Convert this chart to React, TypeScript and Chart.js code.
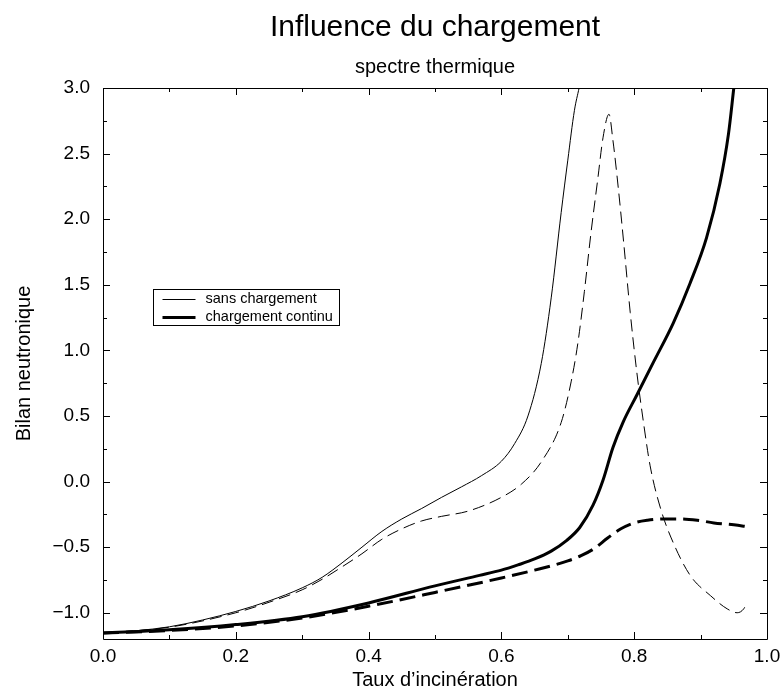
import React, { useEffect, useRef } from 'react';
import { Chart, registerables } from 'chart.js';

Chart.register(...registerables);

// ---- data ----
const sansX = [0, 0.05, 0.1, 0.15, 0.2, 0.25, 0.3, 0.33, 0.36, 0.39, 0.42, 0.45, 0.48, 0.51, 0.54, 0.57, 0.6, 0.62, 0.64, 0.66, 0.675, 0.69, 0.7, 0.71, 0.717];
const sansY = [-1.155, -1.137, -1.107, -1.055, -0.99, -0.91, -0.81, -0.73, -0.62, -0.5, -0.38, -0.285, -0.205, -0.12, -0.04, 0.045, 0.155, 0.29, 0.5, 0.9, 1.4, 2.05, 2.45, 2.83, 3.0];

const sansDashX = [0, 0.1, 0.2, 0.25, 0.3, 0.33, 0.36, 0.39, 0.42, 0.45, 0.48, 0.51, 0.55, 0.6, 0.63, 0.66, 0.69, 0.705, 0.715, 0.725, 0.735, 0.745, 0.753, 0.762, 0.768, 0.776, 0.784, 0.794, 0.804, 0.814, 0.824, 0.84, 0.86, 0.885, 0.915, 0.94, 0.955, 0.965, 0.97];
const sansDashY = [-1.155, -1.11, -1.0, -0.92, -0.825, -0.745, -0.65, -0.55, -0.44, -0.36, -0.3, -0.265, -0.225, -0.12, -0.02, 0.15, 0.45, 0.76, 1.05, 1.45, 1.9, 2.3, 2.62, 2.8, 2.6, 2.24, 1.83, 1.29, 0.83, 0.45, 0.12, -0.21, -0.48, -0.72, -0.87, -0.97, -1.0, -0.97, -0.92];

const continuX = [0, 0.1, 0.2, 0.3, 0.4, 0.5, 0.567, 0.6, 0.625, 0.65, 0.675, 0.698, 0.718, 0.738, 0.753, 0.768, 0.783, 0.804, 0.829, 0.859, 0.884, 0.909, 0.929, 0.942, 0.95];
const continuY = [-1.155, -1.13, -1.09, -1.03, -0.925, -0.795, -0.715, -0.675, -0.635, -0.59, -0.53, -0.45, -0.35, -0.18, 0.01, 0.26, 0.45, 0.66, 0.91, 1.21, 1.51, 1.86, 2.27, 2.65, 3.0];

const continuDashX = [0, 0.1, 0.2, 0.3, 0.4, 0.5, 0.6, 0.65, 0.7, 0.72, 0.74, 0.76, 0.78, 0.8, 0.82, 0.845, 0.87, 0.895, 0.92, 0.95, 0.972];
const continuDashY = [-1.155, -1.135, -1.1, -1.04, -0.95, -0.845, -0.735, -0.675, -0.605, -0.565, -0.51, -0.43, -0.36, -0.315, -0.295, -0.285, -0.285, -0.295, -0.315, -0.33, -0.345];

const xTickValues = [0, 0.2, 0.4, 0.6, 0.8, 1.0];
const xTickLabels = ['0.0', '0.2', '0.4', '0.6', '0.8', '1.0'];
const xMinorTicks = [0.1, 0.3, 0.5, 0.7, 0.9];
const yTickValues = [-1.0, -0.5, 0, 0.5, 1.0, 1.5, 2.0, 2.5, 3.0];
const yTickLabels = ['\u22121.0', '\u22120.5', '0.0', '0.5', '1.0', '1.5', '2.0', '2.5', '3.0'];
const yMinorTicks = [-0.75, -0.25, 0.25, 0.75, 1.25, 1.75, 2.25, 2.75];

const legendLabels = ['sans chargement', 'chargement continu'];
const titleText = 'Influence du chargement';
const subtitleText = 'spectre thermique';
const xTitle = 'Taux d\u2019incin\u00e9ration';
const yTitle = 'Bilan neutronique';

const FONT = "'Liberation Sans', Arial, Helvetica, sans-serif";

const pts = (xs: number[], ys: number[]) => xs.map((x, i) => ({ x, y: ys[i] }));

const labelFor = (values: number[], labels: string[]) => (v: any) => {
  const i = values.findIndex((t) => Math.abs(t - Number(v)) < 1e-9);
  return i >= 0 ? labels[i] : '';
};

const framePlugin = {
  id: 'frameTicks',
  afterDatasetsDraw(chart: any) {
    const { ctx, chartArea: a, scales } = chart;
    const xs = scales.x;
    const ys = scales.y;
    ctx.save();
    ctx.strokeStyle = '#000';
    ctx.lineWidth = 1;
    ctx.setLineDash([]);
    ctx.beginPath();
    ctx.rect(Math.round(a.left) + 0.5, Math.round(a.top) + 0.5, Math.round(a.right - a.left), Math.round(a.bottom - a.top));
    ctx.stroke();
    const major = 7;
    const minor = 4;
    ctx.beginPath();
    const xt = (v: number, len: number) => {
      const p = Math.round(xs.getPixelForValue(v)) + 0.5;
      ctx.moveTo(p, a.bottom); ctx.lineTo(p, a.bottom - len);
      ctx.moveTo(p, a.top); ctx.lineTo(p, a.top + len);
    };
    const yt = (v: number, len: number) => {
      const p = Math.round(ys.getPixelForValue(v)) + 0.5;
      ctx.moveTo(a.left, p); ctx.lineTo(a.left + len, p);
      ctx.moveTo(a.right, p); ctx.lineTo(a.right - len, p);
    };
    xTickValues.forEach((v) => xt(v, major));
    xMinorTicks.forEach((v) => xt(v, minor));
    yTickValues.forEach((v) => yt(v, major));
    yMinorTicks.forEach((v) => yt(v, minor));
    ctx.stroke();
    ctx.restore();
  },
};

const legendPlugin = {
  id: 'insetLegend',
  afterDraw(chart: any) {
    const { ctx, scales } = chart;
    const o = chart.options.plugins.insetLegend;
    const left = Math.round(scales.x.getPixelForValue(o.x0)) + 0.5;
    const right = Math.round(scales.x.getPixelForValue(o.x1)) + 0.5;
    const top = Math.round(scales.y.getPixelForValue(o.y0)) + 0.5;
    const bottom = Math.round(scales.y.getPixelForValue(o.y1)) + 0.5;
    ctx.save();
    ctx.setLineDash([]);
    ctx.fillStyle = '#fff';
    ctx.fillRect(left, top, right - left, bottom - top);
    ctx.strokeStyle = '#000';
    ctx.lineWidth = 1;
    ctx.strokeRect(left, top, right - left, bottom - top);
    const rowH = (bottom - top) / legendLabels.length;
    ctx.font = `14.5px ${FONT}`;
    ctx.fillStyle = '#000';
    ctx.textBaseline = 'middle';
    ctx.textAlign = 'left';
    legendLabels.forEach((lab, i) => {
      const cy = top + rowH * (i + 0.5);
      const ds = chart.data.datasets.find((d: any) => d.label === lab);
      ctx.beginPath();
      ctx.lineWidth = ds ? ds.borderWidth : 1;
      ctx.moveTo(left + 9, Math.round(cy) + 0.5);
      ctx.lineTo(left + 42, Math.round(cy) + 0.5);
      ctx.stroke();
      ctx.fillText(lab, left + 52, cy);
    });
    ctx.restore();
  },
};

export default function App() {
  const ref = useRef<HTMLCanvasElement | null>(null);
  useEffect(() => {
    if (!ref.current) return;
    Chart.defaults.font.family = FONT;
    Chart.defaults.color = '#000';
    const lineBase = { borderColor: '#000', pointRadius: 0, tension: 0.4, cubicInterpolationMode: 'monotone', clip: 0 };
    const chart = new Chart(ref.current, {
      type: 'line',
      data: {
        datasets: [
          { ...lineBase, label: legendLabels[0], data: pts(sansX, sansY), borderWidth: 1 },
          { ...lineBase, label: 'sans chargement (tirets)', data: pts(sansDashX, sansDashY), borderWidth: 1, borderDash: [12, 6] },
          { ...lineBase, label: legendLabels[1], data: pts(continuX, continuY), borderWidth: 3 },
          { ...lineBase, label: 'chargement continu (tirets)', data: pts(continuDashX, continuDashY), borderWidth: 3, borderDash: [16, 7] },
        ],
      },
      options: {
        animation: false,
        responsive: false,
        devicePixelRatio: 1,
        layout: { padding: { left: 0, right: 14, top: 0, bottom: 0 } },
        plugins: {
          legend: { display: false },
          tooltip: { enabled: false },
          title: {
            display: true,
            text: titleText,
            fullSize: false,
            color: '#000',
            font: { size: 30, weight: 'normal', family: FONT },
            padding: { top: 10, bottom: 2 },
          },
          subtitle: {
            display: true,
            text: subtitleText,
            fullSize: false,
            color: '#000',
            font: { size: 20, weight: 'normal', family: FONT },
            padding: { top: 7, bottom: 9 },
          },
          insetLegend: { x0: 0.075, x1: 0.355, y0: 1.468, y1: 1.19 },
        } as any,
        scales: {
          x: {
            type: 'linear',
            min: 0,
            max: 1,
            grid: { display: false, drawTicks: false },
            border: { display: false },
            afterBuildTicks: (s: any) => { s.ticks = xTickValues.map((v) => ({ value: v })); },
            afterFit: (s: any) => { s.height = 55; s.paddingLeft = 0; s.paddingRight = 0; },
            ticks: { padding: 6, font: { size: 19 }, color: '#000', maxRotation: 0, callback: labelFor(xTickValues, xTickLabels) },
            title: { display: true, text: xTitle, color: '#000', font: { size: 20 }, padding: { top: 0, bottom: 2 } },
          },
          y: {
            type: 'linear',
            min: -1.2,
            max: 3.0,
            grid: { display: false, drawTicks: false },
            border: { display: false },
            afterBuildTicks: (s: any) => { s.ticks = yTickValues.map((v) => ({ value: v })); },
            afterFit: (s: any) => { s.width = 103; s.paddingTop = 0; s.paddingBottom = 0; },
            ticks: { padding: 13, font: { size: 19 }, color: '#000', callback: labelFor(yTickValues, yTickLabels) },
            title: { display: true, text: yTitle, color: '#000', font: { size: 20 }, padding: { top: 12, bottom: 0 } },
          },
        },
      } as any,
      plugins: [framePlugin, legendPlugin],
    });
    return () => chart.destroy();
  }, []);
  return (
    <div style={{ position: 'absolute', left: 0, top: 0, width: 781, height: 694, background: '#fff' }}>
      <canvas ref={ref} width={781} height={694} style={{ display: 'block' }} />
    </div>
  );
}
